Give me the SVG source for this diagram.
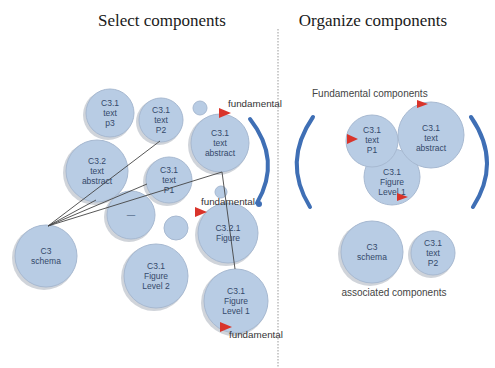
<svg xmlns="http://www.w3.org/2000/svg" width="495" height="368" viewBox="0 0 495 368">
<defs>
<style>
.title{font-family:"Liberation Serif",serif;font-size:17px;fill:#1a1a1a}
.n circle.s{fill:#d0d4da}
.n circle.b{fill:#b8cce4;stroke:#a7b9d1;stroke-width:1}
.n text{font-family:"Liberation Sans",Arial,sans-serif;font-size:8.5px;fill:#34496a;text-anchor:middle}
.lbl{font-family:"Liberation Sans",Arial,sans-serif;font-size:9.8px;fill:#333}
.lbl2{font-family:"Liberation Sans",Arial,sans-serif;font-size:10px;fill:#444}
.tri{fill:#d9342b}
.arc{fill:none;stroke:#3f6fb5;stroke-width:4;stroke-linecap:round}
.con line{stroke:#444;stroke-width:0.9}
</style>
</defs>
<rect width="495" height="368" fill="#fff"/>
<text class="title" x="162" y="26" text-anchor="middle">Select components</text>
<text class="title" x="373" y="26" text-anchor="middle">Organize components</text>
<line x1="278" y1="29" x2="278" y2="368" stroke="#999" stroke-width="1" stroke-dasharray="1.5 1.5"/>

<g id="n-p3" class="n"><circle class="s" cx="108" cy="115" r="25"/><circle class="b" cx="110" cy="113" r="24"/><text x="110" y="106">C3.1</text><text x="110" y="116">text</text><text x="110" y="126">p3</text></g>
<g id="n-p2" class="n"><circle class="s" cx="159" cy="122" r="23"/><circle class="b" cx="161" cy="120" r="22"/><text x="161" y="113">C3.1</text><text x="161" y="123">text</text><text x="161" y="133">P2</text></g>
<g id="n-small1" class="n"><circle class="b" cx="200" cy="108" r="7"/></g>
<g id="n-abs" class="n"><circle class="s" cx="218" cy="145" r="30"/><circle class="b" cx="220" cy="143" r="29"/><text x="220" y="136">C3.1</text><text x="220" y="146">text</text><text x="220" y="156">abstract</text></g>
<g id="n-abs2" class="n"><circle class="s" cx="95" cy="173" r="32"/><circle class="b" cx="97" cy="171" r="31"/><text x="97" y="164">C3.2</text><text x="97" y="174">text</text><text x="97" y="184">abstract</text></g>
<g id="n-p1" class="n"><circle class="s" cx="167" cy="182" r="24"/><circle class="b" cx="169" cy="180" r="23"/><text x="169" y="173">C3.1</text><text x="169" y="183">text</text><text x="169" y="193">P1</text></g>
<g id="n-small2" class="n"><circle class="b" cx="221" cy="192" r="6"/></g>
<g id="n-dash" class="n"><circle class="s" cx="129" cy="217" r="25"/><circle class="b" cx="131" cy="215" r="24"/><text x="131" y="218">—</text></g>
<g id="n-small3" class="n"><circle class="b" cx="176" cy="228" r="12"/></g>
<g id="n-fig321" class="n"><circle class="s" cx="226" cy="235" r="31"/><circle class="b" cx="228" cy="233" r="30"/><text x="228" y="231">C3.2.1</text><text x="228" y="241">Figure</text></g>
<g id="n-schema" class="n"><circle class="s" cx="44" cy="258" r="32"/><circle class="b" cx="46" cy="256" r="31"/><text x="46" y="254">C3</text><text x="46" y="264">schema</text></g>
<g id="n-fig2" class="n"><circle class="s" cx="154" cy="278" r="33"/><circle class="b" cx="156" cy="276" r="32"/><text x="156" y="269">C3.1</text><text x="156" y="279">Figure</text><text x="156" y="289">Level 2</text></g>
<g id="n-fig1" class="n"><circle class="s" cx="234" cy="303" r="33"/><circle class="b" cx="236" cy="301" r="32"/><text x="236" y="294">C3.1</text><text x="236" y="304">Figure</text><text x="236" y="314">Level 1</text></g>

<g id="connectors" class="con">
<line x1="48" y1="226" x2="160" y2="141"/>
<line x1="48" y1="226" x2="96" y2="200"/>
<line x1="48" y1="226" x2="147" y2="184"/>
<line x1="48" y1="226" x2="222" y2="172"/>
<line x1="222" y1="172" x2="235" y2="269"/>
</g>

<g id="marks-left">
<path class="arc" d="M250,119 Q282,160 257,203"/>
<circle cx="259" cy="204" r="3" fill="#3f6fb5"/>
<polygon class="tri" points="219,108 231,113 219,118"/>
<text class="lbl" x="228" y="107">fundamental</text>
<polygon class="tri" points="195,207 207,212 195,217"/>
<text class="lbl" x="201" y="205">fundamental</text>
<polygon class="tri" points="220,322 232,327 220,332"/>
<text class="lbl" x="229" y="338">fundamental</text>
</g>

<text class="lbl2" x="312" y="97">Fundamental components</text>
<path class="arc" d="M313,117 Q282,162 310,207"/>
<path class="arc" d="M471,117 Q502,162 473,207"/>

<g id="r-fig1" class="n"><circle class="b" cx="392" cy="177" r="28" stroke="#e8eef6"/><text x="392" y="175">C3.1</text><text x="392" y="185">Figure</text><text x="392" y="195">Level 1</text></g>
<g id="r-p1" class="n"><circle class="b" cx="372" cy="141" r="26" stroke="#e8eef6"/><text x="372" y="133">C3.1</text><text x="372" y="143">text</text><text x="372" y="153">P1</text></g>
<g id="r-abs" class="n"><circle class="b" cx="431" cy="135" r="33" stroke="#e8eef6"/><text x="431" y="131">C3.1</text><text x="431" y="141">text</text><text x="431" y="151">abstract</text></g>
<polygon class="tri" points="417,100 428,104 417,108"/>
<polygon class="tri" points="347,134 358,139 347,144"/>
<polygon class="tri" points="397,193 408,197 397,201"/>

<g id="r-schema" class="n"><circle class="s" cx="370" cy="254" r="32"/><circle class="b" cx="372" cy="252" r="31"/><text x="372" y="250">C3</text><text x="372" y="260">schema</text></g>
<g id="r-p2" class="n"><circle class="s" cx="431" cy="255" r="23"/><circle class="b" cx="433" cy="253" r="22"/><text x="433" y="246">C3.1</text><text x="433" y="256">text</text><text x="433" y="266">P2</text></g>
<text class="lbl2" x="394" y="296" text-anchor="middle">associated components</text>
</svg>
